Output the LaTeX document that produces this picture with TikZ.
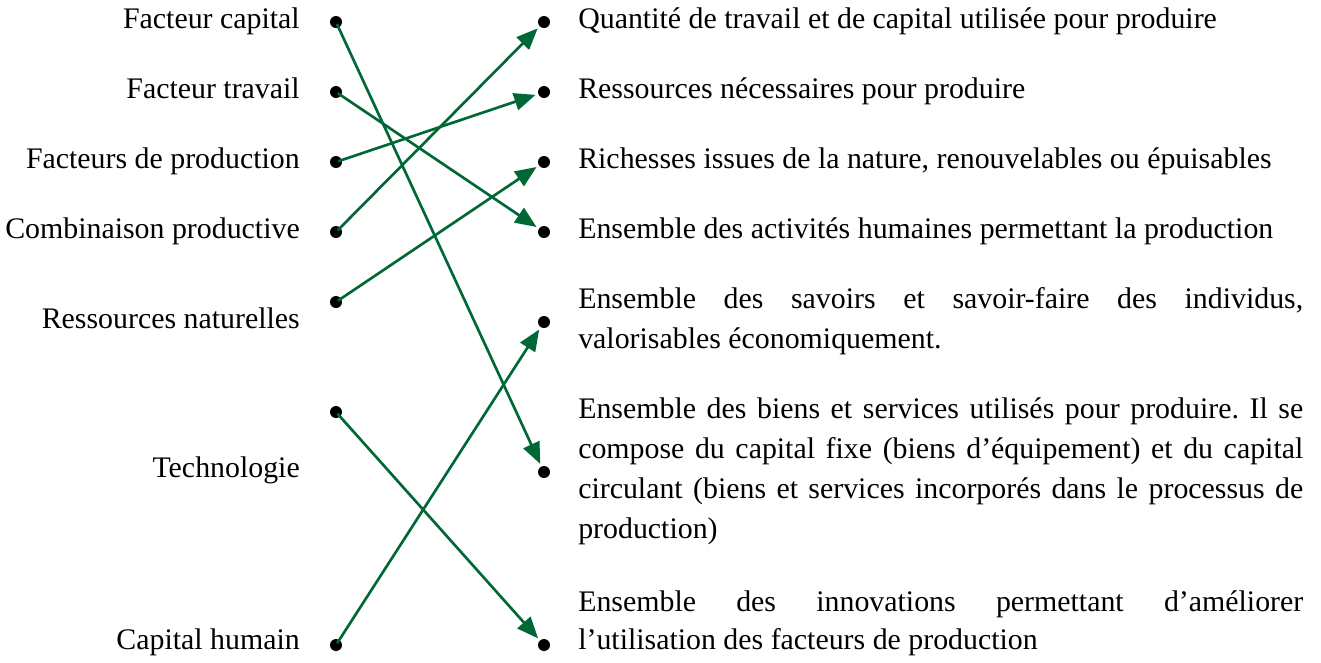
\documentclass[tikz,border=0pt]{standalone}
\usepackage{fontspec}
\setmainfont{Liberation Serif}
\usetikzlibrary{arrows.meta}
\definecolor{arrgreen}{RGB}{0,104,52}
\newcommand{\jline}[1]{\makebox[543.75pt][s]{#1}}
\frenchspacing
\begin{document}
\begin{tikzpicture}[x=0.75pt,y=-0.75pt,
  every node/.style={font=\fontsize{22.4}{26}\selectfont, inner sep=0pt},
  lbl/.style={anchor=mid east},
  rlbl/.style={anchor=mid west},
  dot/.style={circle, fill=black, inner sep=0pt, minimum size=9pt},
  conn/.style={draw=arrgreen, line width=2pt, -{Triangle[length=16pt,width=13pt]}, shorten >=2pt, shorten <=-3pt}]
\useasboundingbox (0,0) rectangle (1321,662);
% left labels
\node[lbl] (t1) at (300,25) {Facteur capital};
\node[lbl] (t2) at (300,95) {Facteur travail};
\node[lbl] (t3) at (300,165) {Facteurs de production};
\node[lbl] (t4) at (300,235) {Combinaison productive};
\node[lbl] (t5) at (300,325) {Ressources naturelles};
\node[lbl] (t6) at (300,474) {Technologie};
\node[lbl] (t7) at (300,646) {Capital humain};
% left dots
\node[dot] (l1) at (336,22) {};
\node[dot] (l2) at (336,92) {};
\node[dot] (l3) at (336,162) {};
\node[dot] (l4) at (336,232) {};
\node[dot] (l5) at (336,302) {};
\node[dot] (l6) at (336,412) {};
\node[dot] (l7) at (336,645) {};
% right dots
\node[dot] (r1) at (544,22) {};
\node[dot] (r2) at (544,92) {};
\node[dot] (r3) at (544,162) {};
\node[dot] (r4) at (544,232) {};
\node[dot] (r5) at (544,322) {};
\node[dot] (r6) at (544,472) {};
\node[dot] (r7) at (544,645) {};
% right labels
\node[rlbl] (d1) at (578,25) {Quantité de travail et de capital utilisée pour produire};
\node[rlbl] (d2) at (578,95) {Ressources nécessaires pour produire};
\node[rlbl] (d3) at (578,165) {Richesses issues de la nature, renouvelables ou épuisables};
\node[rlbl] (d4) at (578,235) {Ensemble des activités humaines permettant la production};
\node[rlbl] (d5a) at (578,305) {\jline{Ensemble des savoirs et savoir-faire des individus,}};
\node[rlbl] (d5b) at (578,345) {valorisables économiquement.};
\node[rlbl] (d6a) at (578,415) {\jline{Ensemble des biens et services utilisés pour produire. Il se}};
\node[rlbl] (d6b) at (578,455) {\jline{compose du capital fixe (biens d’équipement) et du capital}};
\node[rlbl] (d6c) at (578,495) {\jline{circulant (biens et services incorporés dans le processus de}};
\node[rlbl] (d6d) at (578,535) {production)};
\node[rlbl] (d7a) at (578,608) {\jline{Ensemble des innovations permettant d’améliorer}};
\node[rlbl] (d7b) at (578,646) {l’utilisation des facteurs de production};
% connectors
\draw[conn] (l1) -- (r6);
\draw[conn] (l2) -- (r4);
\draw[conn] (l3) -- (r2);
\draw[conn] (l4) -- (r1);
\draw[conn] (l5) -- (r3);
\draw[conn] (l6) -- (r7);
\draw[conn] (l7) -- (r5);
\end{tikzpicture}
\end{document}
